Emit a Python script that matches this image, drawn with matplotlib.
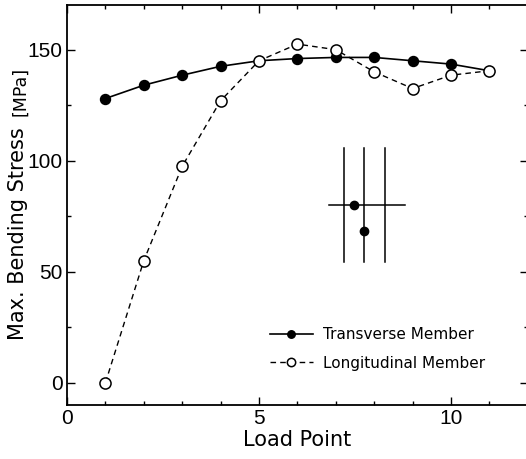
import numpy as np
import matplotlib.pyplot as plt
from matplotlib.ticker import MultipleLocator

plt.rcParams['font.family'] = ['Liberation Sans', 'DejaVu Sans']

load_points = [1, 2, 3, 4, 5, 6, 7, 8, 9, 10, 11]
transverse = [128, 134, 138.5, 142.5, 145, 146, 146.5, 146.5, 145, 143.5, 140.5]
longitudinal = [0, 55, 97.5, 127, 145, 152.5, 150, 140, 132.5, 138.5, 140.5]

# little schematic in the middle of the plot
sketch_vx = [7.22, 7.74, 8.28]
sketch_vy = [54.5, 105.5]
sketch_hx = [6.82, 8.80]
sketch_hy = 80
sketch_dots_x = [7.48, 7.74]
sketch_dots_y = [80, 68.5]

fig = plt.figure(figsize=(5.26, 4.59), dpi=100)
ax = fig.add_axes([0.1274, 0.1176, 0.876, 0.871])

ax.plot(load_points, transverse, '-', color='black', lw=1.2,
        marker='o', ms=7.2, mfc='black', mec='black', label='Transverse Member')
ax.plot(load_points, longitudinal, '--', color='black', lw=1.0, dashes=(4, 3),
        marker='o', ms=8, mfc='white', mec='black', mew=1.1,
        label='Longitudinal Member')

for vx in sketch_vx:
    ax.plot([vx, vx], sketch_vy, color='black', lw=1.1)
ax.plot(sketch_hx, [sketch_hy, sketch_hy], color='black', lw=1.1)
ax.plot(sketch_dots_x, sketch_dots_y, 'o', color='black', ms=6)

ax.set_xlim(0, 12)
ax.set_ylim(-10, 170)
ax.xaxis.set_major_locator(MultipleLocator(5))
ax.xaxis.set_minor_locator(MultipleLocator(1))
ax.yaxis.set_major_locator(MultipleLocator(50))
ax.yaxis.set_minor_locator(MultipleLocator(25))
ax.tick_params(which='both', direction='in', top=True, right=True,
               labelsize=15, width=1)
ax.tick_params(which='major', length=6, pad=3)
ax.tick_params(which='minor', length=3)
for s in ax.spines.values():
    s.set_linewidth(1.3)

ax.set_xlabel('Load Point', fontsize=15, family='DejaVu Sans', labelpad=1)
fig.text(18 / 526, 1 - 234 / 459, 'Max. Bending Stress', rotation=90,
         ha='center', va='center', fontsize=15, family='DejaVu Sans')
fig.text(20 / 526, 1 - 91 / 459, '[MPa]', rotation=90,
         ha='center', va='center', fontsize=12.5, family='DejaVu Sans')

ax.legend(loc='upper left', bbox_to_anchor=(270 / 526, 1 - 327 / 459),
          bbox_transform=fig.transFigure, frameon=False, borderpad=0,
          borderaxespad=0, markerscale=0.75,
          prop={'family': 'DejaVu Sans', 'size': 11},
          handlelength=2.8, handletextpad=0.65, labelspacing=0.9)

fig.savefig('out.png', dpi=100)
